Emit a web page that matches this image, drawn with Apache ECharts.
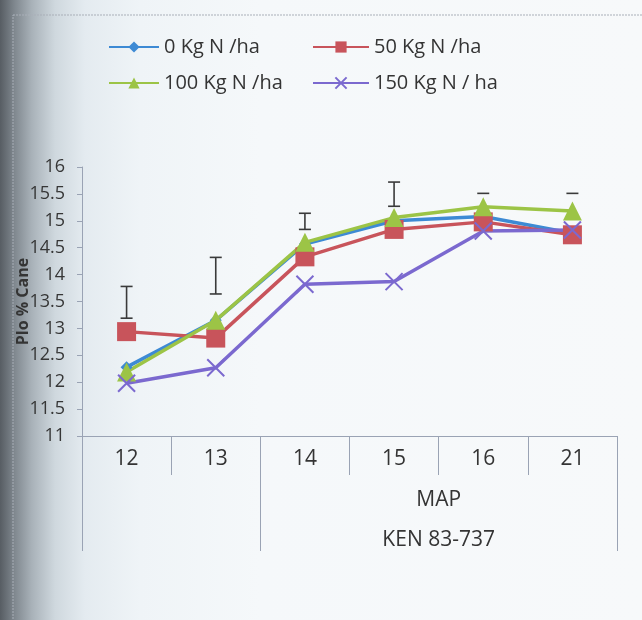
<!DOCTYPE html>
<html>
<head>
<meta charset="utf-8">
<script src="https://cdn.jsdelivr.net/npm/echarts@6/dist/echarts.min.js"></script>
<style>
html,body{margin:0;padding:0;}
body{width:642px;height:620px;overflow:hidden;
background:linear-gradient(to right,#575d63 0px,#7e868d 14px,#a9b2b9 32px,#cfd8de 55px,#e4ebf0 85px,#eff4f7 140px,#f5f8fa 260px,#f7f9fa 100%);}
#chart{width:642px;height:620px;}
</style>
</head>
<body>
<div id="chart"></div>
<script>
// ---- data ----
const categories = ['12', '13', '14', '15', '16', '21'];
const groupLabelTop = 'MAP';
const groupLabelBottom = 'KEN 83-737';
const seriesNames = ['0 Kg N /ha', '50 Kg N /ha', '100 Kg N /ha', '150 Kg N / ha'];
const n0 = [12.28, 13.15, 14.57, 15.00, 15.08, 14.77];
const n50 = [12.94, 12.82, 14.33, 14.84, 14.98, 14.74];
const n100 = [12.19, 13.15, 14.60, 15.06, 15.26, 15.18];
const n150 = [11.98, 12.27, 13.82, 13.87, 14.81, 14.83];
const lsdLow = [13.19, 13.64, 14.84, 15.27, 15.50, 15.50];
const lsdHigh = [13.78, 14.32, 15.14, 15.72, 15.52, 15.52];
const yTicks = {min: 11, max: 16, step: 0.5};

const FONT = '"Open Sans", Lato, "DejaVu Sans", sans-serif';
const AX = '#9aa3b4';
const TXT = '#343434';
const colors = ['#3d8ad4', '#c8545b', '#9cc446', '#7b69cf'];

const chart = echarts.init(document.getElementById('chart'));
const lineSeries = (name, data, color, symbol, size, extra) => Object.assign({
  name, type: 'line', data, xAxisIndex: 0, yAxisIndex: 0,
  symbol, symbolSize: size, showSymbol: true,
  lineStyle: {color, width: 3.5},
  itemStyle: {color},
  emphasis: {disabled: true}
}, extra || {});

const legendText = {fontSize: 20, color: TXT, fontFamily: FONT, lineHeight: 20};
const option = {
  animation: false,
  backgroundColor: 'transparent',
  textStyle: {fontFamily: FONT},
  graphic: [{
    type: 'rect', silent: true,
    shape: {x: 13, y: 15, width: 700, height: 700},
    style: {fill: 'none', stroke: '#a9afb8', lineWidth: 1, lineDash: [2, 1]}
  }],
  legend: [{
    data: [seriesNames[0], seriesNames[2]],
    orient: 'vertical', left: 103, top: 32,
    itemWidth: 50, itemHeight: 14, itemGap: 16,
    textStyle: legendText
  }, {
    data: [seriesNames[1], seriesNames[3]],
    orient: 'vertical', left: 307, top: 32,
    itemWidth: 56, itemHeight: 14, itemGap: 16,
    textStyle: legendText
  }],
  grid: {left: 82, right: 25, top: 167, bottom: 184, containLabel: false, outerBoundsMode: 'none'},
  xAxis: [{
    type: 'category', data: categories, position: 'bottom', boundaryGap: true,
    axisLine: {show: true, lineStyle: {color: AX, width: 1}},
    axisTick: {show: true, length: 39, lineStyle: {color: AX, width: 1}},
    axisLabel: {fontSize: 21, color: TXT, margin: 13, fontFamily: FONT},
    splitLine: {show: false}
  }, {
    type: 'value', min: 0, max: categories.length, position: 'bottom',
    axisLine: {show: false},
    axisTick: {show: true, length: 115, customValues: [0, 2, categories.length], lineStyle: {color: AX, width: 1}},
    axisLabel: {
      show: true, customValues: [(2 + categories.length) / 2], margin: 44,
      formatter: () => '{a|' + groupLabelTop + '}\n{b|' + groupLabelBottom + '}',
      rich: {
        a: {fontSize: 21, color: TXT, lineHeight: 40, fontFamily: FONT},
        b: {fontSize: 21, color: TXT, lineHeight: 40, fontFamily: FONT}
      }
    },
    splitLine: {show: false}
  }],
  yAxis: {
    type: 'value', min: yTicks.min, max: yTicks.max, interval: yTicks.step,
    axisLine: {show: true, lineStyle: {color: AX, width: 1}},
    axisTick: {show: true, length: 5, lineStyle: {color: AX}},
    axisLabel: {fontSize: 18, color: '#363636', margin: 17, fontFamily: FONT},
    splitLine: {show: false},
    name: 'Plo % Cane', nameLocation: 'middle', nameGap: 51, nameMoveOverlap: false,
    nameTextStyle: {fontSize: 16, fontWeight: 'bold', color: TXT, fontFamily: FONT}
  },
  series: [
    lineSeries(seriesNames[0], n0, colors[0], 'diamond', 12),
    lineSeries(seriesNames[1], n50, colors[1], 'rect', 19),
    lineSeries(seriesNames[2], n100, colors[2], 'triangle', 19),
    lineSeries(seriesNames[3], n150, colors[3], 'path://M0,0L10,10M10,0L0,10', 17, {
      itemStyle: {color: colors[3], borderColor: colors[3], borderWidth: 2}
    }),
    {
      type: 'custom', name: 'LSD', xAxisIndex: 0, yAxisIndex: 0, z: 5, silent: true,
      data: categories.map((c, i) => [i, lsdLow[i], lsdHigh[i]]),
      renderItem: (params, api) => {
        const lo = api.coord([api.value(0), api.value(1)]);
        const hi = api.coord([api.value(0), api.value(2)]);
        const hw = 6;
        const st = {stroke: '#3a3a3a', lineWidth: 1.6};
        const ch = [];
        if (Math.abs(lo[1] - hi[1]) > 2) {
          ch.push({type: 'line', shape: {x1: lo[0], y1: lo[1], x2: hi[0], y2: hi[1]}, style: st});
          ch.push({type: 'line', shape: {x1: lo[0] - hw, y1: lo[1], x2: lo[0] + hw, y2: lo[1]}, style: st});
          ch.push({type: 'line', shape: {x1: hi[0] - hw, y1: hi[1], x2: hi[0] + hw, y2: hi[1]}, style: st});
        } else {
          ch.push({type: 'line', shape: {x1: hi[0] - hw, y1: (lo[1] + hi[1]) / 2, x2: hi[0] + hw, y2: (lo[1] + hi[1]) / 2}, style: st});
        }
        return {type: 'group', children: ch};
      }
    }
  ]
};
chart.setOption(option);
</script>
</body>
</html>
